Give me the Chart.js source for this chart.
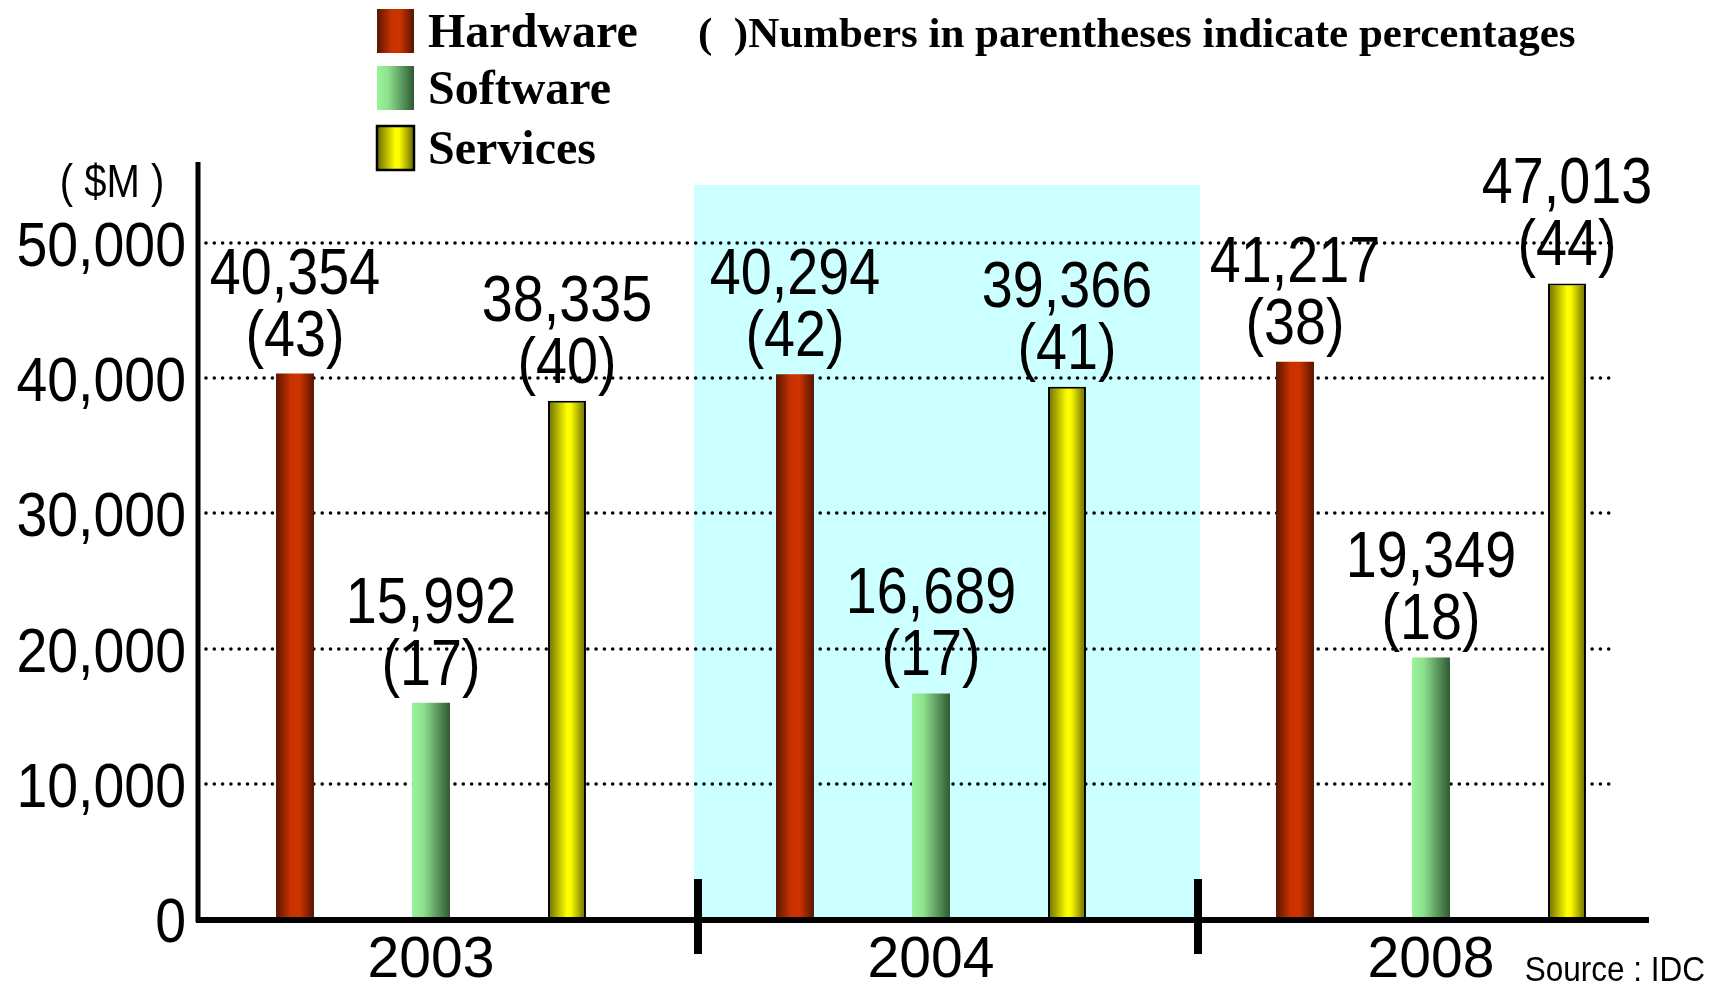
<!DOCTYPE html>
<html>
<head>
<meta charset="utf-8">
<script src="https://cdn.jsdelivr.net/npm/chart.js@4.4.1/dist/chart.umd.min.js"></script>
<style>
  html, body { margin: 0; padding: 0; background: #fff; }
  #wrap { position: relative; width: 1719px; height: 984px; }
</style>
</head>
<body>
<div id="wrap"><canvas id="chart"></canvas></div>
<script>
// ---- data ----
const years = ['2003', '2004', '2008'];
const seriesNames = ['Hardware', 'Software', 'Services'];
const hardware = [40354, 40294, 41217];
const software = [15992, 16689, 19349];
const services = [38335, 39366, 47013];
const hardwarePct = [43, 42, 38];
const softwarePct = [17, 17, 18];
const servicesPct = [40, 41, 44];
const yTicks = [0, 10000, 20000, 30000, 40000, 50000];
const yMax = 56000;
const highlightYear = '2004';
const unitLabel = '( $M )';
const noteText = 'Numbers in parentheses indicate percentages';
const sourceText = 'Source : IDC';

const SANS = '"Liberation Sans", Arial, sans-serif';
const SERIF = '"Liberation Serif", "DejaVu Serif", serif';

// horizontal gradient stops per series (left edge -> right edge)
const gradStops = {
  Hardware: [[0, '#5a1500'], [0.38, '#c83200'], [0.62, '#cc3300'], [1, '#561400']],
  Software: [[0, '#99f399'], [0.3, '#8de28d'], [1, '#2f5832']],
  Services: [[0, '#6a6a00'], [0.5, '#ffff00'], [0.6, '#fcfc00'], [1, '#666600']]
};

function makeGrad(ctx, x0, x1, name) {
  const g = ctx.createLinearGradient(x0, 0, x1, 0);
  gradStops[name].forEach(s => g.addColorStop(s[0], s[1]));
  return g;
}

// condensed-looking text: Liberation Sans squeezed horizontally
function narrowText(ctx, text, x, y, size, align, sx) {
  ctx.save();
  ctx.font = size + 'px ' + SANS;
  ctx.textAlign = align;
  ctx.textBaseline = 'alphabetic';
  ctx.fillStyle = '#000';
  ctx.translate(x, y);
  ctx.scale(sx, 1);
  ctx.fillText(text, 0, 0);
  ctx.restore();
}

const bandShift = 17; // year separators sit a little right of the category edges

const decor = {
  id: 'decor',
  beforeDatasetsDraw(chart) {
    const { ctx, chartArea: a, scales: { x, y } } = chart;
    const half = (x.getPixelForValue(1) - x.getPixelForValue(0)) / 2;

    ctx.save();
    // shaded year band
    const xc = x.getPixelForValue(years.indexOf(highlightYear)) + bandShift;
    ctx.fillStyle = '#ccffff';
    ctx.fillRect(xc - half - 4, a.top + 23, half * 2 + 6, a.bottom - a.top - 23);
    ctx.restore();

    // y tick labels
    y.ticks.forEach(t => {
      const py = y.getPixelForValue(t.value);
      narrowText(ctx, t.value.toLocaleString('en-US'), 186, py + 23, 63, 'right', 0.88);
    });

    // value + percentage labels above each bar
    chart.data.datasets.forEach((ds, di) => {
      chart.getDatasetMeta(di).data.forEach((el, j) => {
        narrowText(ctx, ds.data[j].toLocaleString('en-US'), el.x, el.y - 80, 64, 'center', 0.87);
        narrowText(ctx, '(' + ds.pct[j] + ')', el.x, el.y - 18, 64, 'center', 0.87);
      });
    });

    // dotted grid lines
    ctx.save();
    ctx.strokeStyle = '#000';
    ctx.lineWidth = 3.6;
    ctx.lineCap = 'round';
    ctx.setLineDash([0, 8.3]);
    yTicks.filter(v => v > 0).forEach(v => {
      const py = Math.round(y.getPixelForValue(v));
      ctx.beginPath();
      ctx.moveTo(a.left + bandShift + 8, py);
      ctx.lineTo(a.right - 67, py);
      ctx.stroke();
    });
    ctx.restore();

    // gradient fill for every bar
    chart.data.datasets.forEach((ds, di) => {
      chart.getDatasetMeta(di).data.forEach(el => {
        const g = makeGrad(ctx, el.x - el.width / 2, el.x + el.width / 2, ds.label);
        el.options = Object.assign({}, el.options, { backgroundColor: g });
      });
    });
  },
  afterDatasetsDraw(chart) {
    const { ctx, chartArea: a, scales: { x } } = chart;
    const half = (x.getPixelForValue(1) - x.getPixelForValue(0)) / 2;
    const axisX = a.left + bandShift;
    ctx.save();
    ctx.strokeStyle = '#000';
    ctx.lineCap = 'butt';

    // y axis line
    ctx.lineWidth = 5;
    ctx.beginPath();
    ctx.moveTo(axisX, a.top);
    ctx.lineTo(axisX, a.bottom + 3);
    ctx.stroke();

    // base line
    ctx.lineWidth = 6;
    ctx.beginPath();
    ctx.moveTo(axisX - 2, a.bottom + 1);
    ctx.lineTo(a.right - 32, a.bottom + 1);
    ctx.stroke();

    // separators between years
    ctx.lineWidth = 8;
    for (let i = 0; i < years.length - 1; i++) {
      const px = x.getPixelForValue(i) + half + bandShift;
      ctx.beginPath();
      ctx.moveTo(px, a.bottom - 40);
      ctx.lineTo(px, a.bottom + 35);
      ctx.stroke();
    }
    ctx.restore();

    // unit label
    narrowText(ctx, unitLabel, 112, 197, 46, 'center', 0.87);

    // legend
    ctx.save();
    const boxTop = [9, 66, 126];
    chart.data.datasets.forEach((d, i) => {
      const bx = 377, bw = 37, bh = 44, by = boxTop[i];
      ctx.fillStyle = makeGrad(ctx, bx, bx + bw, d.label);
      ctx.fillRect(bx, by, bw, bh);
      if (d.borderWidth) {
        ctx.lineWidth = 2.5;
        ctx.strokeStyle = '#000';
        ctx.strokeRect(bx, by, bw, bh);
      }
      ctx.fillStyle = '#000';
      ctx.textAlign = 'left';
      ctx.textBaseline = 'alphabetic';
      ctx.font = 'bold 48px ' + SERIF;
      ctx.fillText(d.label, 428, by + bh / 2 + 16);
    });

    // note
    ctx.font = 'bold 43px ' + SERIF;
    ctx.fillText('(  )' + noteText, 698, 47);
    ctx.restore();

    // source
    narrowText(ctx, sourceText, 1705, 981, 35, 'right', 0.9);
  }
};

new Chart(document.getElementById('chart'), {
  type: 'bar',
  data: {
    labels: years,
    datasets: [
      { label: seriesNames[0], data: hardware, pct: hardwarePct, backgroundColor: '#cc3300', borderWidth: 0 },
      { label: seriesNames[1], data: software, pct: softwarePct, backgroundColor: '#66aa66', borderWidth: 0 },
      { label: seriesNames[2], data: services, pct: servicesPct, backgroundColor: '#ffff00', borderColor: '#000', borderWidth: 2 }
    ]
  },
  options: {
    responsive: true,
    maintainAspectRatio: false,
    animation: false,
    categoryPercentage: 0.816,
    barPercentage: 0.279,
    layout: { padding: { top: 162, right: 38, left: 0, bottom: 0 } },
    plugins: {
      legend: { display: false },
      tooltip: { enabled: false }
    },
    scales: {
      x: {
        grid: { display: false },
        border: { display: false },
        ticks: {
          color: '#000',
          padding: 0,
          font: { family: SANS, size: 57 }
        },
        afterFit(scale) { scale.height = 65; }
      },
      y: {
        min: 0,
        max: yMax,
        grid: { display: false, drawTicks: false },
        border: { display: false },
        afterBuildTicks(scale) { scale.ticks = yTicks.map(v => ({ value: v })); },
        ticks: { display: false },
        afterFit(scale) { scale.width = 181; }
      }
    }
  },
  plugins: [decor]
});
</script>
</body>
</html>
